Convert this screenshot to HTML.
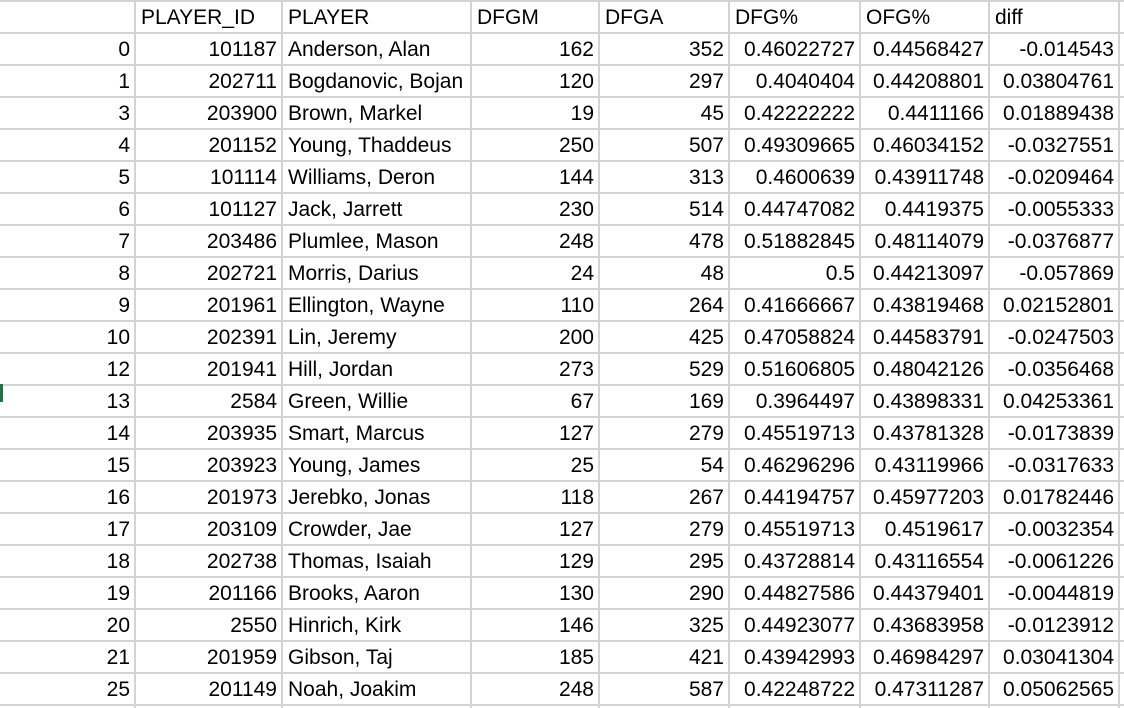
<!DOCTYPE html>
<html><head><meta charset="utf-8"><style>
body{margin:0;width:1124px;height:708px;background:#fff;overflow:hidden;font-family:"Liberation Sans",sans-serif;}
#grid{position:absolute;left:0;top:0;}
.c{position:absolute;height:32px;line-height:33px;font-size:21px;color:#000;white-space:nowrap;box-sizing:border-box;padding:0 5px;}
.r{text-align:right}
.l{text-align:left}
.vl{position:absolute;top:0;width:2px;height:708px;background:#d4d4d4}
.hl{position:absolute;left:0;width:1124px;height:2px;background:#d4d4d4}
</style></head><body>
<div id="grid"></div>
<div style="position:absolute;left:0;top:384px;width:3px;height:18px;background:#217346"></div>
<script>
const cols=[0,135,282,471,599,729,860,989,1119];
const headers=["","PLAYER_ID","PLAYER","DFGM","DFGA","DFG%","OFG%","diff"];
const rows=[
["0","101187","Anderson, Alan","162","352","0.46022727","0.44568427","-0.014543"],
["1","202711","Bogdanovic, Bojan","120","297","0.4040404","0.44208801","0.03804761"],
["3","203900","Brown, Markel","19","45","0.42222222","0.4411166","0.01889438"],
["4","201152","Young, Thaddeus","250","507","0.49309665","0.46034152","-0.0327551"],
["5","101114","Williams, Deron","144","313","0.4600639","0.43911748","-0.0209464"],
["6","101127","Jack, Jarrett","230","514","0.44747082","0.4419375","-0.0055333"],
["7","203486","Plumlee, Mason","248","478","0.51882845","0.48114079","-0.0376877"],
["8","202721","Morris, Darius","24","48","0.5","0.44213097","-0.057869"],
["9","201961","Ellington, Wayne","110","264","0.41666667","0.43819468","0.02152801"],
["10","202391","Lin, Jeremy","200","425","0.47058824","0.44583791","-0.0247503"],
["12","201941","Hill, Jordan","273","529","0.51606805","0.48042126","-0.0356468"],
["13","2584","Green, Willie","67","169","0.3964497","0.43898331","0.04253361"],
["14","203935","Smart, Marcus","127","279","0.45519713","0.43781328","-0.0173839"],
["15","203923","Young, James","25","54","0.46296296","0.43119966","-0.0317633"],
["16","201973","Jerebko, Jonas","118","267","0.44194757","0.45977203","0.01782446"],
["17","203109","Crowder, Jae","127","279","0.45519713","0.4519617","-0.0032354"],
["18","202738","Thomas, Isaiah","129","295","0.43728814","0.43116554","-0.0061226"],
["19","201166","Brooks, Aaron","130","290","0.44827586","0.44379401","-0.0044819"],
["20","2550","Hinrich, Kirk","146","325","0.44923077","0.43683958","-0.0123912"],
["21","201959","Gibson, Taj","185","421","0.43942993","0.46984297","0.03041304"],
["25","201149","Noah, Joakim","248","587","0.42248722","0.47311287","0.05062565"]];
const g=document.getElementById('grid');
for(let i=0;i<23;i++){const h=document.createElement('div');h.className='hl';h.style.top=(1+32*i-1)+'px';


g.appendChild(h);}
for(let j=1;j<cols.length;j++){const v=document.createElement('div');v.className='vl';v.style.left=(cols[j]-1)+'px';


g.appendChild(v);}
function cell(t,j,top,hdr){const d=document.createElement('div');
d.className='c '+((hdr||j==2)?'l':'r');
d.style.left=(cols[j]+1)+'px';d.style.width=(cols[j+1]-cols[j]-1)+'px';d.style.top=top+'px';
d.textContent=t;


g.appendChild(d);}
headers.forEach((t,j)=>cell(t,j,1,true));
rows.forEach((r,i)=>r.forEach((t,j)=>cell(t,j,33+32*i,false)));
</script>
</body></html>
